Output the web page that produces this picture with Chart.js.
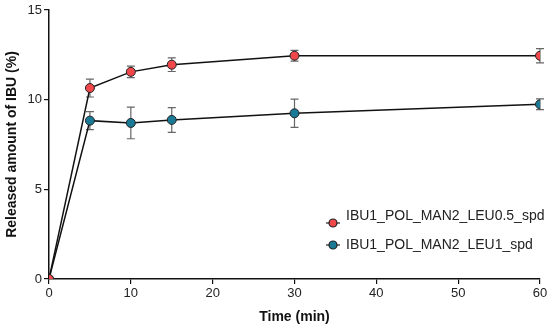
<!DOCTYPE html>
<html>
<head>
<meta charset="utf-8">
<script src="https://cdn.jsdelivr.net/npm/chart.js@4/dist/chart.umd.min.js"></script>
<style>
html, body { margin: 0; padding: 0; background: #fff; }
#wrap { width: 550px; height: 330px; }
</style>
</head>
<body>
<div id="wrap"><canvas id="cvs" width="550" height="330"></canvas></div>
<script>
// time points (min)
var times = [0, 5, 10, 15, 30, 60];
var labels = ["IBU1_POL_MAN2_LEU0.5_spd", "IBU1_POL_MAN2_LEU1_spd"];
// released amount (%) and standard deviation
var leu05 = [0, 10.65, 11.55, 11.95, 12.45, 12.45];
var leu05Err = [0, 0.5, 0.32, 0.38, 0.3, 0.4];
var leu1 = [0, 8.83, 8.7, 8.87, 9.24, 9.74];
var leu1Err = [0, 0.5, 0.88, 0.69, 0.79, 0.3];
var xTicks = [0, 10, 20, 30, 40, 50, 60];
var yTicks = [0, 5, 10, 15];

var colors = ["#f0474a", "#1a7a95"];
var fam = "'Liberation Sans', Arial, sans-serif";

function toPoints(vals) {
	let pts = [];
	for (let i in times) {
		pts.push({x: times[i], y: vals[i]});
	}
	return pts;
}

var errors = [leu05Err, leu1Err];

var errorBars = {
	id: "errorBars",
	beforeDatasetsDraw: function(chart) {
		let ctx = chart.ctx;
		let ys = chart.scales.y;
		ctx.save();
		ctx.strokeStyle = "#666";
		ctx.lineWidth = 1.2;
		chart.data.datasets.forEach(function(ds, di) {
			let meta = chart.getDatasetMeta(di);
			meta.data.forEach(function(pt, i) {
				let e = errors[di][i];
				if (!e) return;
				let v = ds.data[i].y;
				let top = ys.getPixelForValue(v + e);
				let bot = ys.getPixelForValue(v - e);
				ctx.beginPath();
				ctx.moveTo(pt.x, top); ctx.lineTo(pt.x, bot);
				ctx.moveTo(pt.x - 4, top); ctx.lineTo(pt.x + 4, top);
				ctx.moveTo(pt.x - 4, bot); ctx.lineTo(pt.x + 4, bot);
				ctx.stroke();
			});
		});
		ctx.restore();
	}
};

// legend sits inside the plot, lower right
var legendBox = {
	id: "legendBox",
	afterDraw: function(chart) {
		let ctx = chart.ctx;
		let x = 333;
		let markY = [223, 245];
		let textY = [216, 245];
		ctx.save();
		ctx.font = "14px " + fam;
		ctx.textBaseline = "middle";
		for (let i = 0; i < labels.length; i++) {
			let y = markY[i];
			ctx.strokeStyle = "#222";
			ctx.lineWidth = 1.2;
			ctx.beginPath();
			ctx.moveTo(x - 7, y); ctx.lineTo(x + 7, y);
			ctx.stroke();
			ctx.beginPath();
			ctx.arc(x, y, 4, 0, Math.PI * 2);
			ctx.fillStyle = colors[i];
			ctx.fill();
			ctx.stroke();
			ctx.fillStyle = "#222";
			ctx.fillText(labels[i], x + 13, textY[i]);
		}
		ctx.restore();
	}
};

var config = {
	type: "scatter",
	data: {
		datasets: [
			{
				label: labels[0],
				data: toPoints(leu05),
				showLine: true,
				borderColor: "#111",
				borderWidth: 1.5,
				pointBackgroundColor: colors[0],
				pointBorderColor: "#222",
				pointBorderWidth: 1,
				pointRadius: 4.5
			},
			{
				label: labels[1],
				data: toPoints(leu1),
				showLine: true,
				borderColor: "#111",
				borderWidth: 1.5,
				pointBackgroundColor: colors[1],
				pointBorderColor: "#222",
				pointBorderWidth: 1,
				pointRadius: 4.5
			}
		]
	},
	options: {
		responsive: false,
		animation: false,
		layout: { padding: { top: 10, right: 10, left: 0, bottom: 0 } },
		plugins: {
			legend: false,
			tooltip: { enabled: false }
		},
		scales: {
			x: {
				type: "linear",
				min: 0,
				max: 60,
				afterBuildTicks: function(s) { s.ticks = xTicks.map(function(v) { return {value: v}; }); },
				afterFit: function(s) { s.height = 51; },
				grid: { drawOnChartArea: false, drawTicks: true, tickLength: 5, color: "#111", lineWidth: 1.2 },
				border: { display: true, color: "#111", width: 1.5 },
				ticks: { color: "#222", padding: 2, maxRotation: 0, font: { size: 13, family: fam } },
				title: { display: true, text: "Time (min)", color: "#111", padding: { top: 3 }, font: { size: 14, weight: "bold", family: fam } }
			},
			y: {
				min: 0,
				max: 15,
				afterBuildTicks: function(s) { s.ticks = yTicks.map(function(v) { return {value: v}; }); },
				afterFit: function(s) { s.width = 49; },
				grid: { drawOnChartArea: false, drawTicks: true, tickLength: 5, color: "#111", lineWidth: 1.2 },
				border: { display: true, color: "#111", width: 1.5 },
				ticks: { color: "#222", padding: 2, font: { size: 13, family: fam } },
				title: { display: true, text: "Released amount of IBU (%)", color: "#111", padding: { bottom: 2 }, font: { size: 14, weight: "bold", family: fam } }
			}
		}
	},
	plugins: [errorBars, legendBox]
};

new Chart("cvs", config);
</script>
</body>
</html>
